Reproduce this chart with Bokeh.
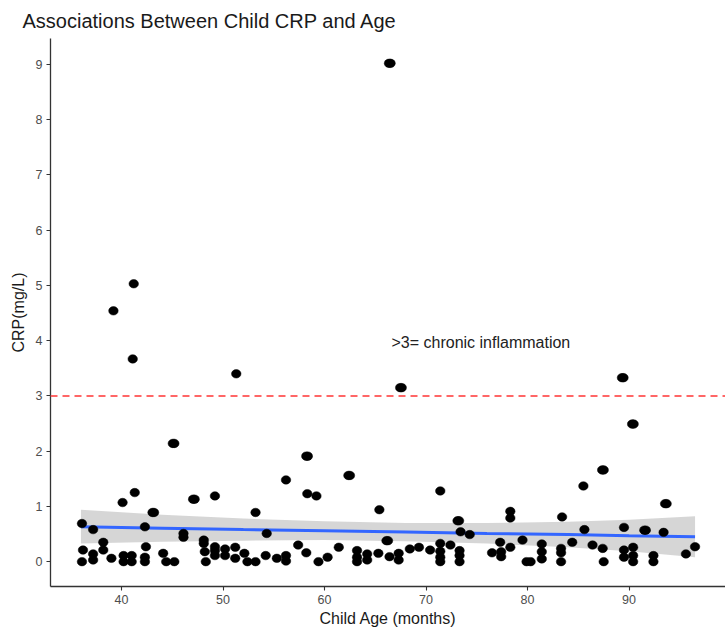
from bokeh.plotting import figure
from bokeh.models import Range1d, Span, Label, FixedTicker
from bokeh.embed import file_html
from bokeh.resources import INLINE

title_text = "Associations Between Child CRP and Age"
x_label = "Child Age (months)"
y_label = "CRP(mg/L)"
note_text = ">3= chronic inflammation"
threshold = 3.0
x_ticks = [40, 50, 60, 70, 80, 90]
y_ticks = [0, 1, 2, 3, 4, 5, 6, 7, 8, 9]

age = [
    36.1, 36.2, 36.1, 37.2, 37.2, 37.2, 38.2, 38.2, 39.0, 39.2,
    40.1, 40.2, 40.2, 41.0, 41.0, 41.1, 41.2, 41.3, 42.3, 42.4,
    42.3, 42.3, 43.05, 43.2, 44.1, 44.4, 45.2, 45.05, 45.2, 46.1,
    46.1, 47.05, 47.2, 48.1, 48.1, 48.2, 48.3, 49.2, 49.2, 49.2,
    49.2, 50.2, 50.2, 51.2, 51.2, 51.3, 52.1, 52.4, 53.2, 53.2,
    54.3, 54.2, 55.3,
    56.2, 56.2, 56.2, 57.4, 58.2, 58.35, 58.3, 58.2, 59.2, 59.4,
    60.3, 61.4, 62.35, 62.5, 63.2, 63.2, 63.2, 64.2, 64.2, 65.3,
    65.4, 66.1, 66.25, 66.4, 66.35, 66.5, 67.3, 67.3, 67.45, 67.6,
    68.4, 69.3, 70.4, 71.4, 71.4, 71.4, 71.4, 71.4, 72.4, 73.1,
    73.25, 73.4, 74.3, 73.3, 73.3, 73.3, 76.5, 77.3, 77.4, 77.4,
    78.3, 78.3, 78.3, 79.5, 79.9, 80.3, 81.4, 81.4, 81.4, 83.4,
    83.3, 83.3, 83.3, 84.4, 85.5, 85.6, 86.4, 87.35, 87.5, 87.4,
    87.5, 89.3, 89.45, 89.5, 89.5, 89.5, 90.3, 90.45, 90.4, 90.4,
    90.4, 91.5, 91.65, 92.4, 92.4, 93.4, 93.55, 93.7, 95.6, 96.5,
]
crp = [
    0.69, 0.21, 0.00, 0.58, 0.14, 0.03, 0.35, 0.21, 0.06, 4.54,
    1.07, 0.11, 0.00, 0.11, 0.00, 3.67, 5.03, 1.25, 0.63, 0.27,
    0.08, 0.00, 0.89, 0.89, 0.15, 0.00, 0.00, 2.14, 2.14, 0.51,
    0.44, 1.13, 1.13, 0.39, 0.33, 0.18, 0.00, 1.19, 0.27, 0.20,
    0.11, 0.23, 0.11, 0.26, 0.06, 3.40, 0.15, 0.00, 0.00, 0.89,
    0.51, 0.11, 0.06,
    1.48, 0.11, 0.01, 0.30, 1.91, 1.91, 1.23, 0.16, 1.19, 0.00,
    0.08, 0.26, 1.56, 1.56, 0.20, 0.08, 0.00, 0.14, 0.03, 0.15,
    0.94, 0.38, 0.38, 0.09, 9.02, 9.02, 0.15, 0.03, 3.15, 3.15,
    0.23, 0.26, 0.21, 1.28, 0.33, 0.19, 0.08, 0.00, 0.30, 0.74,
    0.74, 0.54, 0.49, 0.20, 0.11, 0.00, 0.16, 0.35, 0.18, 0.09,
    0.91, 0.79, 0.26, 0.39, 0.00, 0.00, 0.32, 0.18, 0.05, 0.81,
    0.24, 0.16, 0.00, 0.35, 1.37, 0.58, 0.30, 1.66, 1.66, 0.24,
    0.00, 3.33, 3.33, 0.62, 0.21, 0.08, 2.49, 2.49, 0.26, 0.11,
    0.00, 0.57, 0.57, 0.11, 0.00, 0.53, 1.05, 1.05, 0.14, 0.27,
]

# linear fit and its confidence band
fit_x = [36.0, 44.0, 52.0, 60.0, 68.0, 76.0, 84.0, 90.0, 96.5]
fit_y = [0.63, 0.605, 0.58, 0.56, 0.535, 0.51, 0.49, 0.47, 0.45]
fit_lo = [0.33, 0.36, 0.38, 0.39, 0.37, 0.33, 0.26, 0.19, 0.08]
fit_hi = [0.94, 0.85, 0.78, 0.73, 0.70, 0.70, 0.72, 0.76, 0.82]

FONT = "Liberation Sans"

p = figure(width=725, height=631, output_backend="svg", toolbar_location=None,
           x_range=Range1d(33, 99.5), y_range=Range1d(-0.45, 9.47),
           min_border_left=50, min_border_right=0, min_border_top=37,
           min_border_bottom=45)

p.title.text = title_text
p.title.align = "left"
p.title.offset = -28
p.title.text_font = FONT
p.title.text_font_size = "20px"
p.title.text_font_style = "normal"
p.title.text_color = "#1a1a1a"
p.title.standoff = 14

p.outline_line_color = None
p.xgrid.visible = False
p.ygrid.visible = False
p.background_fill_color = "white"
p.border_fill_color = "white"

for ax in (p.xaxis[0], p.yaxis[0]):
    ax.axis_line_color = "#333333"
    ax.axis_line_width = 1.3
    ax.major_tick_line_color = "#333333"
    ax.major_tick_line_width = 1.1
    ax.major_tick_out = 4
    ax.major_tick_in = 0
    ax.minor_tick_line_color = None
    ax.major_label_text_font = FONT
    ax.major_label_text_font_size = "12.5px"
    ax.major_label_text_color = "#4d4d4d"
    ax.axis_label_text_font = FONT
    ax.axis_label_text_font_size = "16px"
    ax.axis_label_text_font_style = "normal"
    ax.axis_label_text_color = "#1a1a1a"

p.xaxis.ticker = FixedTicker(ticks=x_ticks)
p.yaxis.ticker = FixedTicker(ticks=y_ticks)
p.xaxis.axis_label = x_label
p.yaxis.axis_label = y_label
p.xaxis.major_label_standoff = 4
p.yaxis.major_label_standoff = 4
p.xaxis.axis_label_standoff = 3
p.yaxis.axis_label_standoff = 6

p.varea(x=fit_x, y1=fit_lo, y2=fit_hi, fill_color="#999999", fill_alpha=0.4)
p.line(fit_x, fit_y, line_color="#3366FF", line_width=3)

p.ellipse(x=age, y=crp, width=9.5, height=8.5, width_units="screen",
          height_units="screen", fill_color="black", line_color="black",
          line_width=0.5)

p.add_layout(Span(location=threshold, dimension="width", line_color="#ff5555",
                  line_alpha=0.9, line_dash="7 5", line_width=2))

p.add_layout(Label(x=75.4, y=3.96, text=note_text, text_align="center",
                   text_baseline="middle", text_font=FONT,
                   text_font_size="16px", text_color="#222222"))

open("out.html", "w").write(file_html(p, INLINE))
